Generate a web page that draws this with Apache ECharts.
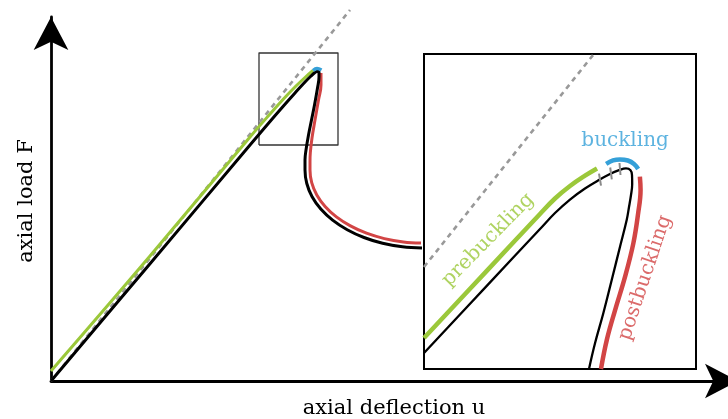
<!DOCTYPE html>
<html>
<head>
<meta charset="utf-8">
<script src="https://cdn.jsdelivr.net/npm/echarts@6/dist/echarts.min.js"></script>
<style>
  html, body { margin: 0; padding: 0; background: #fff; }
  #chart { width: 728px; height: 419px; }
</style>
</head>
<body>
<div id="chart"></div>
<script>
// Schematic load–deflection path of a buckling column (u: axial deflection, F: axial load)

// ---- main diagram ----
const pathU = [0, 0.99, 1.99, 2.19, 2.32, 2.44, 2.54, 2.60, 2.64, 2.665, 2.68, 2.68, 2.665, 2.635, 2.605, 2.575, 2.55, 2.54, 2.54, 2.558, 2.611, 2.698, 2.816, 2.962, 3.13, 3.316, 3.515, 3.71];
const pathF = [0, 1.173, 2.36, 2.595, 2.745, 2.88, 2.99, 3.05, 3.085, 3.097, 3.085, 3.04, 2.93, 2.76, 2.61, 2.46, 2.31, 2.21, 2.11, 1.975, 1.843, 1.72, 1.609, 1.513, 1.435, 1.377, 1.342, 1.33];

const preU = [0, 0.99, 1.99, 2.19, 2.32, 2.44, 2.54, 2.62];
const preF = [0.10, 1.25, 2.44, 2.67, 2.815, 2.94, 3.035, 3.105];

const postU = [2.70, 2.70, 2.675, 2.64, 2.61, 2.593, 2.59, 2.59, 2.607, 2.658, 2.741, 2.854, 2.994, 3.155, 3.334, 3.524, 3.70];
const postF = [3.08, 2.96, 2.81, 2.61, 2.43, 2.28, 2.19, 2.11, 1.983, 1.86, 1.745, 1.641, 1.551, 1.478, 1.424, 1.391, 1.38];

const buckU = [2.62, 2.66, 2.705];
const buckF = [3.105, 3.125, 3.11];

const linearU = [0, 2.99];
const linearF = [0, 3.71];

// window that is magnified in the detail view
const zoomU = [2.08, 2.87];
const zoomF = [2.36, 3.28];

// ---- detail view ----
const dPathU = [2.080, 2.263, 2.4169, 2.4605, 2.504, 2.5476, 2.5854, 2.6202, 2.6464, 2.6667, 2.6798, 2.6841, 2.6847, 2.6812, 2.6754, 2.6687, 2.6493, 2.6252, 2.6008, 2.5767, 2.5592];
const dPathF = [2.4067, 2.6036, 2.7689, 2.8156, 2.855, 2.8872, 2.9105, 2.9295, 2.9406, 2.9459, 2.9406, 2.9266, 2.9003, 2.8682, 2.8331, 2.7952, 2.7172, 2.6199, 2.5227, 2.4351, 2.36];

const dPreU = [2.080, 2.263, 2.4169, 2.4605, 2.504, 2.5476, 2.5825];
const dPreF = [2.4505, 2.6474, 2.8127, 2.858, 2.8945, 2.9246, 2.9456];

const dPostU = [2.707, 2.709, 2.702, 2.688, 2.664, 2.635, 2.611, 2.594];
const dPostF = [2.922, 2.883, 2.815, 2.727, 2.630, 2.532, 2.445, 2.360];

const dBuckU = [2.609, 2.629, 2.649, 2.672, 2.690, 2.702];
const dBuckF = [2.959, 2.969, 2.972, 2.969, 2.959, 2.944];

const dLinearU = [2.080, 2.571];
const dLinearF = [2.658, 3.277];

// short transition marks across the path
const markU = [[2.5883, 2.5941], [2.6208, 2.6255], [2.6478, 2.6507]];
const markF = [[2.9308, 2.8958], [2.9485, 2.9135], [2.9616, 2.9266]];

// phase labels: text, position, angle
const phaseNames = ['prebuckling', 'buckling', 'postbuckling'];
const phaseU = [2.266, 2.664, 2.722];
const phaseF = [2.737, 3.027, 2.626];
const phaseAngle = [45.5, 0, 71.4];

const GREEN = '#9bc83a';
const RED = '#d24545';
const BLUE = '#35a0d8';
const GREY = '#999999';
const FONT = 'DejaVu Serif';

const zip = (a, b) => a.map((v, i) => [v, b[i]]);

function curve(grid, u, f, color, width, extra) {
  return Object.assign({
    type: 'line',
    xAxisIndex: grid, yAxisIndex: grid,
    data: zip(u, f),
    symbol: 'none', showSymbol: false,
    smooth: 0.4,
    silent: true, animation: false,
    lineStyle: { color: color, width: width, cap: 'butt', join: 'round' }
  }, extra || {});
}

function dashed(grid, u, f, extra) {
  return curve(grid, u, f, GREY, 2.6, Object.assign({
    smooth: false,
    lineStyle: { color: GREY, width: 2.6, type: [5, 4.5] }
  }, extra || {}));
}

const boxU = [zoomU[0], zoomU[1], zoomU[1], zoomU[0], zoomU[0]];
const boxF = [zoomF[0], zoomF[0], zoomF[1], zoomF[1], zoomF[0]];

const series = [
  curve(0, boxU, boxF, '#333', 1.3, { smooth: false }),
  dashed(0, linearU, linearF, { clip: false }),
  curve(0, preU, preF, GREEN, 3),
  curve(0, postU, postF, RED, 3),
  curve(0, pathU, pathF, '#000', 3),
  curve(0, buckU, buckF, BLUE, 3.5),

  dashed(1, dLinearU, dLinearF),
  curve(1, dPreU, dPreF, GREEN, 4.5),
  curve(1, dPostU, dPostF, RED, 4.5),
  curve(1, dPathU, dPathF, '#000', 2.3),
  curve(1, dBuckU, dBuckF, BLUE, 4.5)
];

markU.forEach((u, i) => {
  series.push(curve(1, u, markF[i], '#8a8a8a', 2, { smooth: false }));
});

series.push({
  type: 'scatter',
  xAxisIndex: 1, yAxisIndex: 1,
  symbolSize: 0,
  silent: true, animation: false,
  data: phaseNames.map((n, i) => ({
    name: n,
    value: [phaseU[i], phaseF[i]],
    label: {
      show: true,
      formatter: n,
      position: 'inside',
      rotate: phaseAngle[i],
      align: 'center',
      verticalAlign: 'middle',
      fontFamily: FONT,
      fontSize: 20,
      color: [GREEN, BLUE, RED][i]
    }
  }))
});

const nameStyle = { fontFamily: FONT, fontSize: 21, color: '#000' };

const option = {
  backgroundColor: '#fff',
  animation: false,
  grid: [
    { left: 51, top: 17, right: 0, bottom: 38, outerBoundsMode: 'none', containLabel: false },
    { left: 424, top: 54, width: 272, height: 315, show: true, borderColor: '#000', borderWidth: 2, backgroundColor: '#fff', outerBoundsMode: 'none', containLabel: false }
  ],
  xAxis: [
    {
      gridIndex: 0, type: 'value', min: 0, max: 6.77,
      axisLine: { show: true, symbol: ['none', 'arrow'], symbolSize: [26, 33], symbolOffset: [0, 10], lineStyle: { color: '#000', width: 2.8 } },
      axisTick: { show: false }, axisLabel: { show: false }, splitLine: { show: false },
      name: 'axial deflection u', nameLocation: 'middle', nameGap: 17,
      nameTextStyle: Object.assign({ padding: [0, 0, 0, 9] }, nameStyle)
    },
    { gridIndex: 1, type: 'value', min: zoomU[0], max: zoomU[1], show: false }
  ],
  yAxis: [
    {
      gridIndex: 0, type: 'value', min: 0, max: 3.64,
      axisLine: { show: true, symbol: ['none', 'arrow'], symbolSize: [26, 33], lineStyle: { color: '#000', width: 2.8 } },
      axisTick: { show: false }, axisLabel: { show: false }, splitLine: { show: false },
      name: 'axial load F', nameLocation: 'middle', nameGap: 14,
      nameTextStyle: Object.assign({ padding: [0, 4, 0, 0] }, nameStyle)
    },
    { gridIndex: 1, type: 'value', min: zoomF[0], max: zoomF[1], show: false }
  ],
  series: series
};

const chart = echarts.init(document.getElementById('chart'), null, { renderer: 'canvas' });
chart.setOption(option);
</script>
</body>
</html>
